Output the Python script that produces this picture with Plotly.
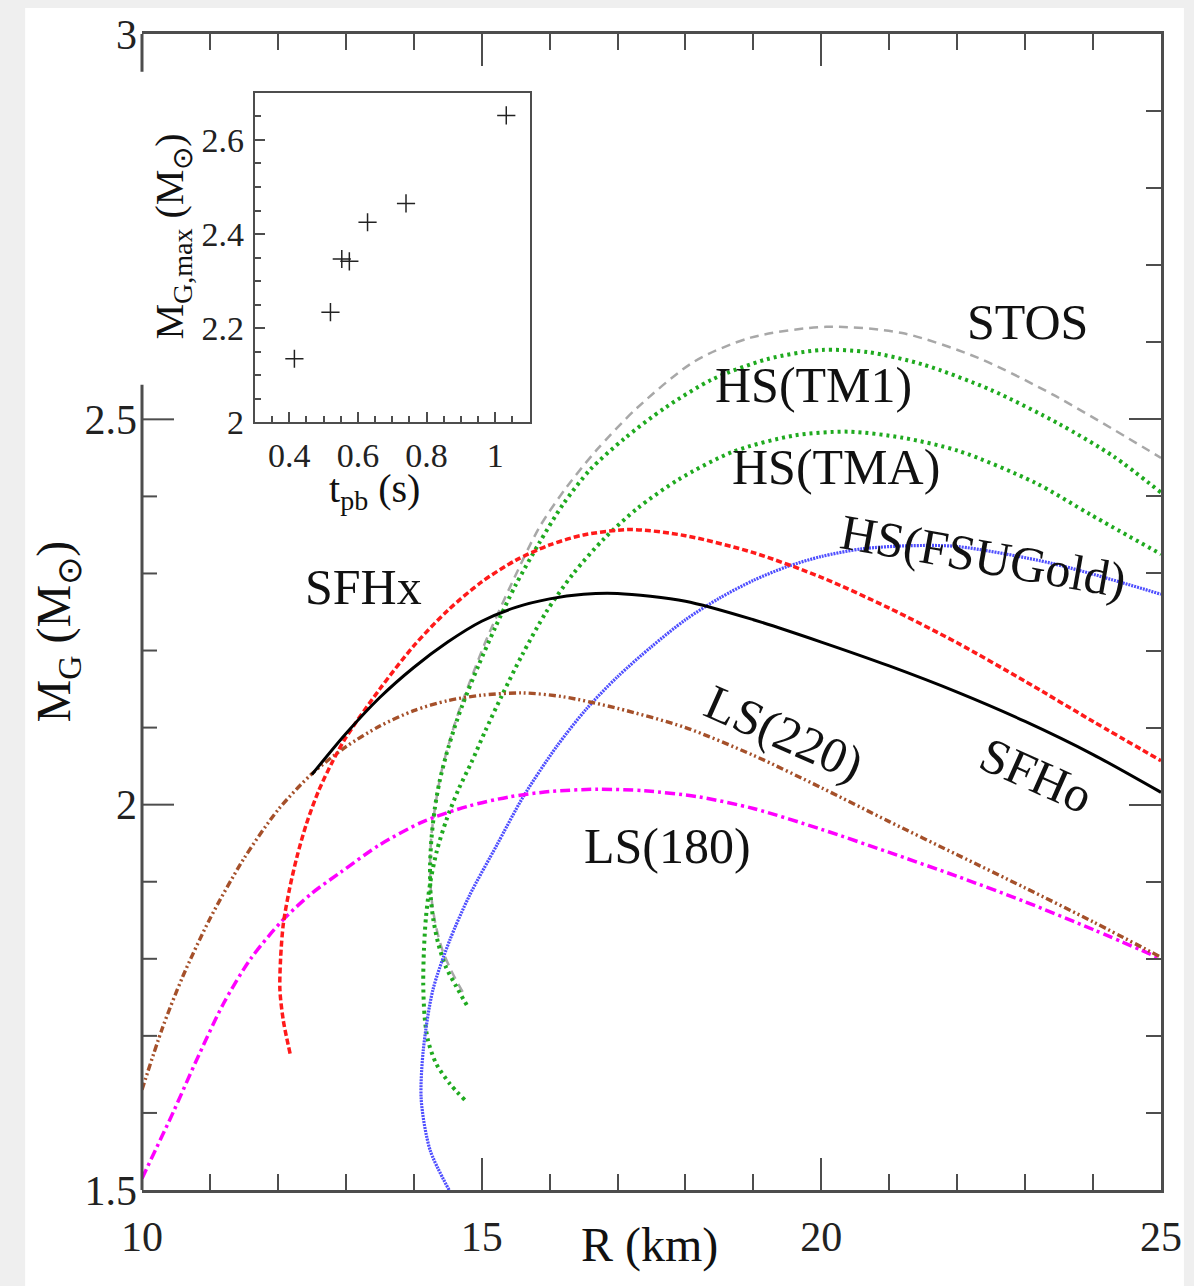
import numpy as np
import plotly.graph_objects as go

# ---------------- data ----------------
R_SFHo = [12.5, 13.0, 13.5, 14.0, 14.5, 15.0, 15.5, 16.0, 16.5, 17.0, 18.0, 19.0, 20.0, 21.0, 22.0, 23.0, 24.0, 25.0]
M_SFHo = [2.039, 2.092, 2.139, 2.178, 2.211, 2.238, 2.256, 2.267, 2.273, 2.274, 2.264, 2.240, 2.211, 2.180, 2.146, 2.108, 2.065, 2.016]

R_SFHx = [12.18, 12.08, 12.03, 12.04, 12.08, 12.17, 12.28, 12.42, 12.6, 12.8, 13.0, 13.5, 14.0, 14.5, 15.0, 15.5, 16.0, 16.5, 17.2, 18.0, 19.0, 20.0, 21.0, 22.0, 23.0, 24.0, 25.0]
M_SFHx = [1.677, 1.72, 1.76, 1.80, 1.845, 1.89, 1.932, 1.975, 2.018, 2.055, 2.087, 2.150, 2.206, 2.252, 2.289, 2.317, 2.337, 2.350, 2.357, 2.349, 2.327, 2.295, 2.255, 2.210, 2.160, 2.108, 2.057]

R_LS220 = [10.0, 10.3, 10.6, 11.0, 11.5, 12.0, 12.5, 13.0, 13.5, 14.0, 14.5, 15.0, 15.6, 16.2, 17.0, 18.0, 19.0, 20.0, 21.0, 22.0, 23.0, 24.0, 25.0]
M_LS220 = [1.63, 1.71, 1.777, 1.852, 1.930, 1.993, 2.040, 2.075, 2.102, 2.122, 2.135, 2.142, 2.145, 2.140, 2.125, 2.100, 2.064, 2.022, 1.978, 1.935, 1.892, 1.848, 1.802]

R_LS180 = [10.0, 10.46, 10.8, 11.2, 11.6, 12.07, 12.5, 12.92, 13.5, 14.14, 14.8, 15.4, 16.0, 16.7, 17.4, 18.2, 19.0, 20.0, 21.0, 22.0, 23.0, 24.0, 25.0]
M_LS180 = [1.515, 1.601, 1.668, 1.742, 1.800, 1.850, 1.885, 1.912, 1.948, 1.978, 1.998, 2.010, 2.017, 2.020, 2.018, 2.010, 1.995, 1.968, 1.938, 1.907, 1.874, 1.838, 1.80]

R_STOS = [14.72, 14.55, 14.42, 14.32, 14.26, 14.24, 14.26, 14.32, 14.40, 14.52, 14.66, 14.85, 15.05, 15.41, 15.85, 16.25, 16.69, 17.29, 18.13, 18.96, 20.07, 21.19, 22.30, 23.41, 25.0]
M_STOS = [1.757, 1.785, 1.812, 1.845, 1.88, 1.92, 1.96, 2.0, 2.04, 2.08, 2.12, 2.165, 2.21, 2.281, 2.360, 2.412, 2.46, 2.515, 2.575, 2.606, 2.620, 2.612, 2.580, 2.532, 2.45]

R_TM1 = [14.78, 14.62, 14.47, 14.36, 14.29, 14.25, 14.24, 14.26, 14.31, 14.38, 14.48, 14.60, 14.72, 14.95, 15.2, 15.5, 15.85, 16.2, 16.6, 17.1, 17.7, 18.4, 19.2, 20.0, 20.7, 21.5, 22.5, 23.5, 24.3, 25.0]
M_TM1 = [1.740, 1.765, 1.79, 1.82, 1.85, 1.88, 1.92, 1.955, 1.995, 2.03, 2.065, 2.10, 2.13, 2.18, 2.23, 2.285, 2.34, 2.39, 2.435, 2.475, 2.515, 2.552, 2.578, 2.590, 2.587, 2.571, 2.538, 2.494, 2.452, 2.405]

R_TMA = [14.75, 14.53, 14.33, 14.21, 14.16, 14.14, 14.15, 14.18, 14.24, 14.34, 14.48, 14.66, 14.85, 15.05, 15.3, 15.6, 15.95, 16.35, 16.8, 17.3, 17.9, 18.7, 19.6, 20.4, 21.2, 22.02, 23.14, 23.97, 25.0]
M_TMA = [1.617, 1.638, 1.664, 1.694, 1.725, 1.768, 1.811, 1.854, 1.897, 1.94, 1.98, 2.02, 2.055, 2.095, 2.142, 2.195, 2.25, 2.30, 2.345, 2.385, 2.422, 2.458, 2.479, 2.484, 2.476, 2.459, 2.418, 2.376, 2.325]

R_FSU = [14.52, 14.24, 14.11, 14.14, 14.28, 14.53, 14.82, 15.22, 15.61, 16.10, 16.54, 17.0, 17.5, 18.0, 18.5, 19.0, 19.5, 20.0, 20.6, 21.3, 22.0, 23.4, 25.0]
M_FSU = [1.50, 1.552, 1.617, 1.681, 1.759, 1.824, 1.882, 1.947, 2.010, 2.075, 2.124, 2.166, 2.205, 2.240, 2.268, 2.291, 2.309, 2.322, 2.332, 2.336, 2.335, 2.313, 2.273]

# inset: maximum gravitational mass vs post-bounce time
t_pb = [0.415, 0.520, 0.553, 0.575, 0.628, 0.740, 1.032]
M_max = [2.135, 2.234, 2.347, 2.342, 2.425, 2.465, 2.652]

# tick labels
x_tickvals = [10, 15, 20, 25]
x_ticktext = ["10", "15", "20", "25"]
y_tickvals = [1.5, 2.0, 2.5, 3.0]
y_ticktext = ["1.5", "2", "2.5", "3"]
ix_tickvals = [0.4, 0.6, 0.8, 1.0]
ix_ticktext = ["0.4", "0.6", "0.8", "1"]
iy_tickvals = [2.0, 2.2, 2.4, 2.6]
iy_ticktext = ["2", "2.2", "2.4", "2.6"]

# curve labels
label_text = ["STOS", "HS(TM1)", "HS(TMA)", "HS(FSUGold)", "SFHx", "LS(220)", "SFHo", "LS(180)"]
label_R = [23.03, 19.88, 20.21, 22.38, 13.26, 19.46, 23.16, 17.74]
label_M = [2.626, 2.544, 2.438, 2.323, 2.282, 2.093, 2.038, 1.946]
label_angle = [0, 0, 0, 10, 0, 24, 24, 0]

# ---------------- figure ----------------
FONT = "Liberation Serif, Times New Roman, serif"
AX = "#4d4d4d"

fig = go.Figure()

curves = [
    (R_STOS, M_STOS, "#a8a8a8", "9px,6px", 2.5),
    (R_TM1, M_TM1, "#1faa1f", "3px,4px", 4),
    (R_TMA, M_TMA, "#1faa1f", "3px,4px", 4),
    (R_FSU, M_FSU, "#4f4fff", "2px,1px", 3.2),
    (R_LS180, M_LS180, "#ff00ff", "10px,4px,3px,4px", 3.5),
    (R_LS220, M_LS220, "#a5502a", "7px,3px,2px,3px,2px,3px", 3.4),
    (R_SFHx, M_SFHx, "#ff1a1a", "6px,3px", 3.5),
    (R_SFHo, M_SFHo, "#000000", "solid", 3),
]
for R, M, col, dash, w in curves:
    fig.add_trace(go.Scatter(x=R, y=M, mode="lines", showlegend=False, hoverinfo="skip",
                             line=dict(color=col, dash=dash, width=w, shape="spline", smoothing=0.8),
                             xaxis="x", yaxis="y"))

# helper trace for the right-hand mirrored y axis
fig.add_trace(go.Scatter(x=[None], y=[None], xaxis="x", yaxis="y2", showlegend=False, hoverinfo="skip"))

# inset
fig.add_trace(go.Scatter(x=t_pb, y=M_max, mode="markers", showlegend=False, hoverinfo="skip",
                         marker=dict(symbol="cross-thin", size=13, line=dict(color="#222", width=1.5)),
                         xaxis="x2", yaxis="y3"))

main_font = dict(family=FONT, size=42, color="#222")
inset_font = dict(family=FONT, size=34, color="#222")

fig.update_layout(
    width=1194, height=1286, autosize=False,
    margin=dict(l=142, r=32, t=32, b=96),
    paper_bgcolor="#efefef", plot_bgcolor="white",
    font=dict(family=FONT, color="#222"),
    xaxis=dict(range=[10, 25], domain=[0, 1], anchor="y",
               tickmode="array", tickvals=x_tickvals, ticktext=x_ticktext,
               ticks="inside", ticklen=32, tickwidth=2, tickcolor=AX,
               minor=dict(dtick=1, tick0=10, ticks="inside", ticklen=16, tickwidth=2, tickcolor=AX),
               showline=True, linecolor=AX, linewidth=3, mirror="ticks",
               showgrid=False, zeroline=False, tickfont=main_font, ticklabelstandoff=8),
    yaxis=dict(range=[1.5, 3], domain=[0, 1], anchor="x",
               tickmode="array", tickvals=y_tickvals, ticktext=y_ticktext,
               ticks="", showline=False, showgrid=False, zeroline=False,
               tickfont=main_font, ticklabelstandoff=4),
    yaxis2=dict(range=[1.5, 3], overlaying="y", side="right", anchor="x",
                tickmode="array", tickvals=y_tickvals, showticklabels=False,
                ticks="inside", ticklen=32, tickwidth=2, tickcolor=AX,
                minor=dict(dtick=0.1, tick0=1.5, ticks="inside", ticklen=15, tickwidth=2, tickcolor=AX),
                showline=True, linecolor=AX, linewidth=3, showgrid=False, zeroline=False),
    xaxis2=dict(range=[0.3, 1.1], domain=[0.1108, 0.3804], anchor="y3",
                tickmode="array", tickvals=ix_tickvals, ticktext=ix_ticktext,
                ticks="inside", ticklen=10, tickwidth=1.5, tickcolor=AX,
                minor=dict(dtick=0.05, tick0=0.3, ticks="inside", ticklen=6, tickwidth=1.5, tickcolor=AX),
                showline=True, linecolor=AX, linewidth=2, mirror=True,
                showgrid=False, zeroline=False, tickfont=inset_font, ticklabelstandoff=2),
    yaxis3=dict(range=[2.0, 2.7], domain=[0.6641, 0.9491], anchor="x2",
                tickmode="array", tickvals=iy_tickvals, ticktext=iy_ticktext,
                ticks="inside", ticklen=10, tickwidth=1.5, tickcolor=AX,
                minor=dict(dtick=0.05, tick0=2.0, ticks="inside", ticklen=6, tickwidth=1.5, tickcolor=AX),
                showline=True, linecolor=AX, linewidth=2, mirror=True,
                showgrid=False, zeroline=False, tickfont=inset_font, ticklabelstandoff=2),
)

# white panel behind everything
shapes = [dict(type="rect", xref="paper", yref="paper", x0=-0.1147, x1=1.0225, y0=-0.083, y1=1.0225,
               fillcolor="white", line=dict(width=0), layer="below")]

# left spine of the main plot (hidden behind the inset's canvas in the upper part)
def yfrac(v):
    return (v - 1.5) / 1.5

for a, b in [(1.5, 2.545), (2.951, 3.0)]:
    shapes.append(dict(type="line", xref="paper", yref="paper", x0=0, x1=0, y0=yfrac(a), y1=yfrac(b),
                       line=dict(color=AX, width=3), layer="above"))
for k in range(1, 11):
    v = 1.5 + 0.1 * k
    ln = 32 if k % 5 == 0 else 15
    shapes.append(dict(type="line", xref="paper", yref="paper", xsizemode="pixel", xanchor=0,
                       x0=0, x1=ln, y0=yfrac(v), y1=yfrac(v),
                       line=dict(color=AX, width=2), layer="above"))
fig.update_layout(shapes=shapes)

ann = []
for t, xr, yr, ang in zip(label_text, label_R, label_M, label_angle):
    ann.append(dict(text=t, x=xr, y=yr, xref="x", yref="y", showarrow=False, textangle=ang,
                    font=dict(family=FONT, size=50, color="#111"), xanchor="center", yanchor="middle"))
# axis titles
ann.append(dict(text="R (km)", x=0.498, y=-0.0475, xref="paper", yref="paper", showarrow=False,
                font=dict(family=FONT, size=48, color="#111"), xanchor="center", yanchor="middle"))
ann.append(dict(text="M<sub>G</sub> (M<sub>⊙</sub>)", x=-0.083, y=0.4836, xref="paper", yref="paper",
                showarrow=False, textangle=-90,
                font=dict(family=FONT, size=48, color="#111"), xanchor="center", yanchor="middle"))
ann.append(dict(text="t<sub>pb</sub> (s)", x=(375 - 142) / 1020, y=(1190 - 490) / 1158,
                xref="paper", yref="paper", showarrow=False,
                font=dict(family=FONT, size=40, color="#111"), xanchor="center", yanchor="middle"))
ann.append(dict(text="M<sub>G,max</sub> (M<sub>⊙</sub>)", x=(172 - 142) / 1020, y=(1190 - 235) / 1158,
                xref="paper", yref="paper", showarrow=False, textangle=-90,
                font=dict(family=FONT, size=40, color="#111"), xanchor="center", yanchor="middle"))
fig.update_layout(annotations=ann)

fig.write_html("out.html")
